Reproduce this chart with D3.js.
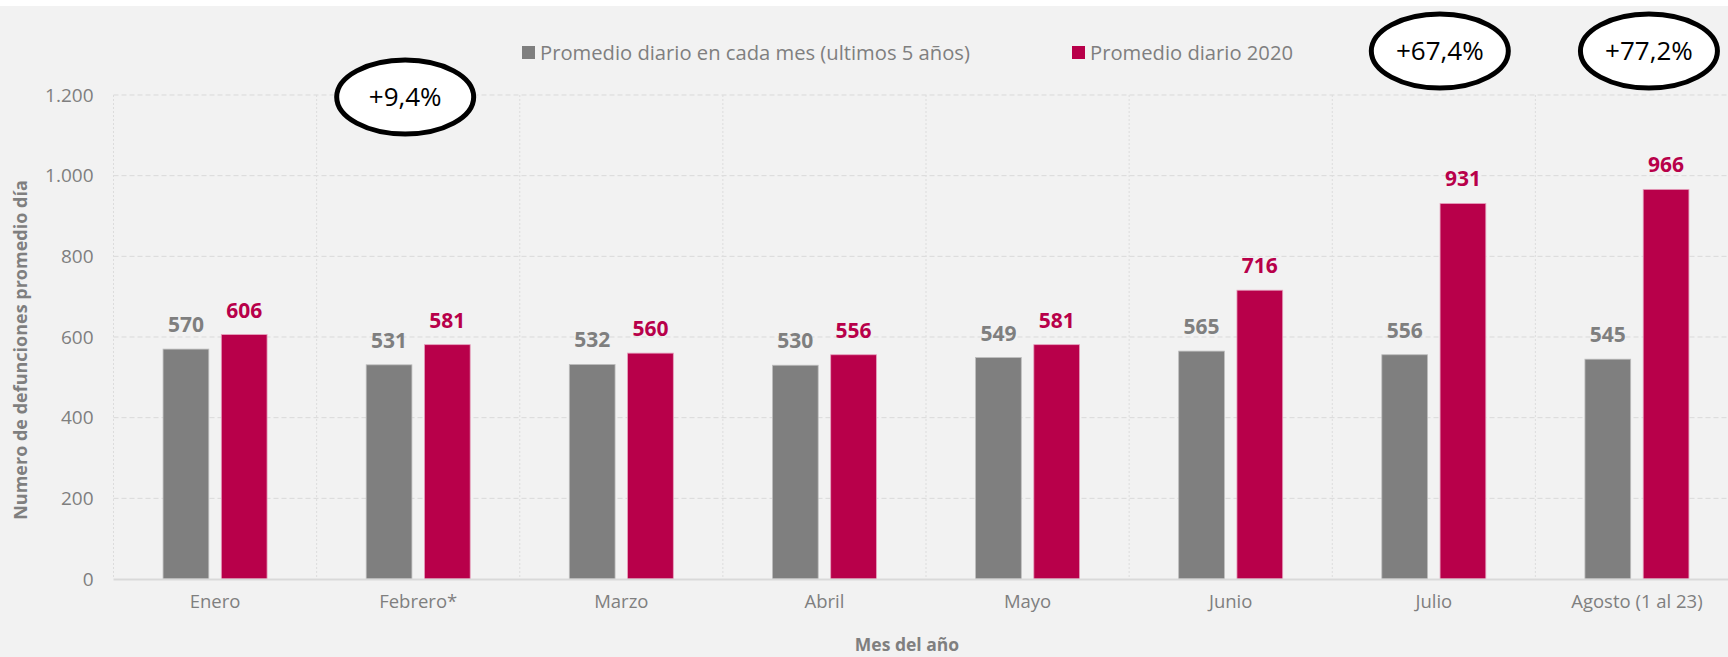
<!DOCTYPE html>
<html>
<head>
<meta charset="utf-8">
<script src="https://cdn.jsdelivr.net/npm/d3@7"></script>
<style>
  html, body { margin: 0; padding: 0; background: #ffffff; }
  svg { display: block; font-family: 'Open Sans', 'Noto Sans', sans-serif; }
</style>
</head>
<body>
<div id="chart"></div>
<script>
// data
var months = ['Enero', 'Febrero*', 'Marzo', 'Abril', 'Mayo', 'Junio', 'Julio', 'Agosto (1 al 23)'];
var avgFiveYears = [570, 531, 532, 530, 549, 565, 556, 545];
var avg2020 = [606, 581, 560, 556, 581, 716, 931, 966];
var seriesNames = ['Promedio diario en cada mes (ultimos 5 años)', 'Promedio diario 2020'];
var yTicks = [0, 200, 400, 600, 800, 1000, 1200];
var callouts = [
  { month: 'Febrero*', text: '+9,4%' },
  { month: 'Julio', text: '+67,4%' },
  { month: 'Agosto (1 al 23)', text: '+77,2%' }
];

(function(d3) {
  'use strict';

  var width = 1728;
  var height = 657;
  var grey = '#7f7f7f';
  var red = '#b8004a';
  var colors = [grey, red];

  // plot box (right edge runs past the picture, like the original crop)
  var left = 113.5, right = 1738.5, top = 95, bottom = 579;

  var svg = d3.select('#chart')
    .append('svg')
    .attr('width', width)
    .attr('height', height);

  svg.append('rect')
    .attr('x', 0).attr('y', 6)
    .attr('width', width).attr('height', height - 6)
    .attr('fill', '#f2f2f2');

  var x0 = d3.scaleBand()
    .domain(months)
    .range([left, right])
    .paddingInner(0)
    .paddingOuter(0);

  var x1 = d3.scaleBand()
    .domain([0, 1])
    .range([-52, 52])
    .paddingInner(0.215);

  var y = d3.scaleLinear()
    .domain([0, 1200])
    .range([bottom, top]);

  // horizontal grid
  svg.append('g')
    .selectAll('line')
    .data(yTicks.filter(function(d) { return d > 0; }))
    .enter()
    .append('line')
    .attr('x1', left).attr('x2', right)
    .attr('y1', function(d) { return y(d); })
    .attr('y2', function(d) { return y(d); })
    .attr('stroke', '#d9d9d9')
    .attr('stroke-width', 1)
    .attr('stroke-dasharray', '5,3');

  // vertical dotted separators between months
  svg.append('g')
    .selectAll('line')
    .data(months)
    .enter()
    .append('line')
    .attr('x1', function(d) { return x0(d); })
    .attr('x2', function(d) { return x0(d); })
    .attr('y1', top).attr('y2', bottom)
    .attr('stroke', '#dcdcdc')
    .attr('stroke-width', 1)
    .attr('stroke-dasharray', '2,2');

  // y axis labels
  var yAxis = svg.append('g')
    .attr('transform', 'translate(' + (left - 20) + ',0)')
    .call(d3.axisLeft(y)
      .tickValues(yTicks)
      .tickSize(0)
      .tickPadding(0)
      .tickFormat(function(d) { return d3.format(',')(d).replace(/,/g, '.'); }));
  yAxis.select('.domain').remove();
  yAxis.selectAll('text')
    .attr('fill', grey)
    .style('font-size', '19px')
    .style('font-family', "'Open Sans', sans-serif");

  // bars
  var groups = svg.append('g')
    .selectAll('g')
    .data(months)
    .enter()
    .append('g')
    .attr('transform', function(d) { return 'translate(' + (x0(d) + x0.bandwidth() / 2) + ',0)'; });

  groups.selectAll('rect')
    .data(function(d, i) { return [avgFiveYears[i], avg2020[i]]; })
    .enter()
    .append('rect')
    .attr('x', function(d, j) { return x1(j); })
    .attr('y', function(d) { return y(d); })
    .attr('width', x1.bandwidth())
    .attr('height', function(d) { return y(0) - y(d); })
    .attr('fill', function(d, j) { return colors[j]; })
    .attr('stroke', function(d, j) { return j === 0 ? '#bdbdbd' : '#e6a0bd'; })
    .attr('stroke-width', 0.8);

  groups.selectAll('text')
    .data(function(d, i) { return [avgFiveYears[i], avg2020[i]]; })
    .enter()
    .append('text')
    .attr('x', function(d, j) { return x1(j) + x1.bandwidth() / 2; })
    .attr('y', function(d) { return y(d) - 17; })
    .attr('text-anchor', 'middle')
    .attr('fill', function(d, j) { return colors[j]; })
    .style('font-size', '21px')
    .style('font-weight', 'bold')
    .text(function(d) { return d; });

  // baseline
  svg.append('line')
    .attr('x1', left).attr('x2', right)
    .attr('y1', y(0) + 0.5).attr('y2', y(0) + 0.5)
    .attr('stroke', '#d9d9d9')
    .attr('stroke-width', 2);

  // x axis labels
  var xAxis = svg.append('g')
    .attr('transform', 'translate(0,' + (bottom + 16) + ')')
    .call(d3.axisBottom(x0).tickSize(0).tickPadding(0));
  xAxis.select('.domain').remove();
  xAxis.selectAll('text')
    .attr('fill', grey)
    .style('font-size', '18.5px')
    .style('font-family', "'Open Sans', sans-serif");

  // axis titles
  svg.append('text')
    .attr('x', 907)
    .attr('y', 651)
    .attr('text-anchor', 'middle')
    .attr('fill', grey)
    .style('font-size', '17.5px')
    .style('font-weight', 'bold')
    .text('Mes del año');

  svg.append('text')
    .attr('transform', 'translate(27,350) rotate(-90)')
    .attr('text-anchor', 'middle')
    .attr('fill', grey)
    .style('font-size', '18px')
    .style('font-weight', 'bold')
    .text('Numero de defunciones promedio día');

  // legend
  var legend = svg.append('g')
    .selectAll('g')
    .data(seriesNames)
    .enter()
    .append('g')
    .attr('transform', function(d, i) { return 'translate(' + (i === 0 ? 522 : 1072) + ',53)'; });

  legend.append('rect')
    .attr('x', 0).attr('y', -7)
    .attr('width', 13).attr('height', 13)
    .attr('fill', function(d, i) { return colors[i]; });

  legend.append('text')
    .attr('x', 18)
    .attr('y', 0)
    .attr('dy', '0.35em')
    .attr('fill', grey)
    .style('font-size', '20.2px')
    .text(function(d) { return d; });

  // callout ellipses
  var calloutY = [97, 51, 51];
  var calloutDx = [-13, 6, 12];
  var callout = svg.append('g')
    .selectAll('g')
    .data(callouts)
    .enter()
    .append('g')
    .attr('transform', function(d, i) {
      return 'translate(' + (x0(d.month) + x0.bandwidth() / 2 + calloutDx[i]) + ',' + calloutY[i] + ')';
    });

  callout.append('ellipse')
    .attr('rx', 68.5)
    .attr('ry', 37)
    .attr('fill', '#ffffff')
    .attr('stroke', '#000000')
    .attr('stroke-width', 5);

  callout.append('text')
    .attr('text-anchor', 'middle')
    .attr('dy', '0.35em')
    .attr('fill', '#000000')
    .style('font-size', '26px')
    .text(function(d) { return d.text; });

})(window.d3);
</script>
</body>
</html>
